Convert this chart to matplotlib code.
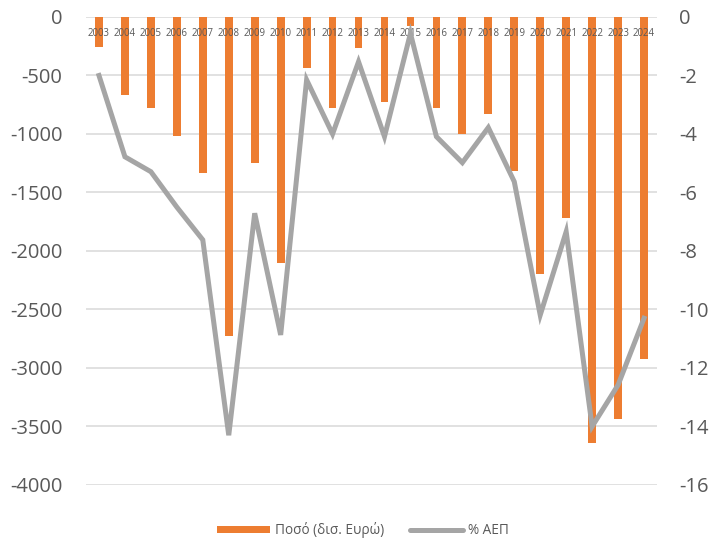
import matplotlib
matplotlib.use("Agg")
import matplotlib.pyplot as plt
import matplotlib.ticker as ticker
from matplotlib.patches import Patch
from matplotlib.lines import Line2D
import numpy as np

plt.rcParams['font.family'] = ['Open Sans', 'DejaVu Sans']
plt.rcParams['axes.unicode_minus'] = False

# Data
years = ['2003', '2004', '2005', '2006', '2007', '2008', '2009', '2010', '2011', '2012', '2013',
         '2014', '2015', '2016', '2017', '2018', '2019', '2020', '2021', '2022', '2023', '2024']
amount = [-260, -665, -780, -1015, -1335, -2730, -1245, -2105, -440, -778, -265,
          -725, -75, -778, -1000, -830, -1315, -2195, -1715, -3645, -3435, -2925]
pct_gdp = [-2.0, -4.78, -5.29, -6.5, -7.62, -14.3, -6.71, -10.87, -2.15, -4.0, -1.53,
           -4.09, -0.56, -4.09, -4.98, -3.78, -5.63, -10.19, -7.34, -14.0, -12.58, -10.3]
left_ticks = [0, -500, -1000, -1500, -2000, -2500, -3000, -3500, -4000]
right_ticks = [0, -2, -4, -6, -8, -10, -12, -14, -16]

bar_color = '#ED7D31'
line_color = '#A5A5A5'
text_color = '#595959'

fig = plt.figure(figsize=(7.19, 5.39), dpi=100)
ax = fig.add_axes([0.1196, 0.1002, 0.7942, 0.8683])
x = np.arange(len(years))

ax.bar(x, amount, 0.3, color=bar_color, zorder=2)
ax.set_ylim(-4000, 0)
ax.set_xlim(-0.5, len(years) - 0.5)
ax.set_yticks(left_ticks)
ax.yaxis.set_major_formatter(ticker.StrMethodFormatter('{x:.0f}'))
ax.grid(axis='y', color='#D9D9D9', linewidth=1.1)
ax.set_axisbelow(True)
ax.tick_params(axis='x', length=0, labelbottom=False)
ax.tick_params(axis='y', length=0, pad=17, labelsize=14.5, labelcolor=text_color)
for s in ax.spines.values():
    s.set_visible(False)

ax2 = ax.twinx()
ax2.plot(x, pct_gdp, color=line_color, linewidth=3.6, solid_joinstyle='miter', zorder=3)
ax2.set_ylim(-16, 0)
ax2.set_yticks(right_ticks)
ax2.yaxis.set_major_formatter(ticker.StrMethodFormatter('{x:.0f}'))
ax2.tick_params(axis='y', length=0, pad=16, labelsize=14.5, labelcolor=text_color)

# category labels drawn on the twin so they sit over the bars, axis crossing at 0
ax2.xaxis.set_visible(True)
ax2.xaxis.set_ticks_position('bottom')
ax2.spines['bottom'].set_position(('data', 0))
ax2.set_xticks(x)
ax2.set_xticklabels(years, fontsize=6.9, color=text_color)
ax2.tick_params(axis='x', length=0, pad=8, labelbottom=True)
for s in ax2.spines.values():
    s.set_visible(False)

handles = [Patch(facecolor=bar_color, edgecolor='none'),
           Line2D([0], [0], color=line_color, linewidth=3.6, solid_capstyle='round')]
fig.legend(handles, ['Ποσό (δισ. Ευρώ)', '% ΑΕΠ'], loc='center', bbox_to_anchor=(0.505, 0.016),
           ncol=2, frameon=False, fontsize=9.8, labelcolor=text_color,
           handlelength=3.9, handleheight=0.5, handletextpad=0.4, columnspacing=1.85)

fig.savefig('out.png', dpi=100)
